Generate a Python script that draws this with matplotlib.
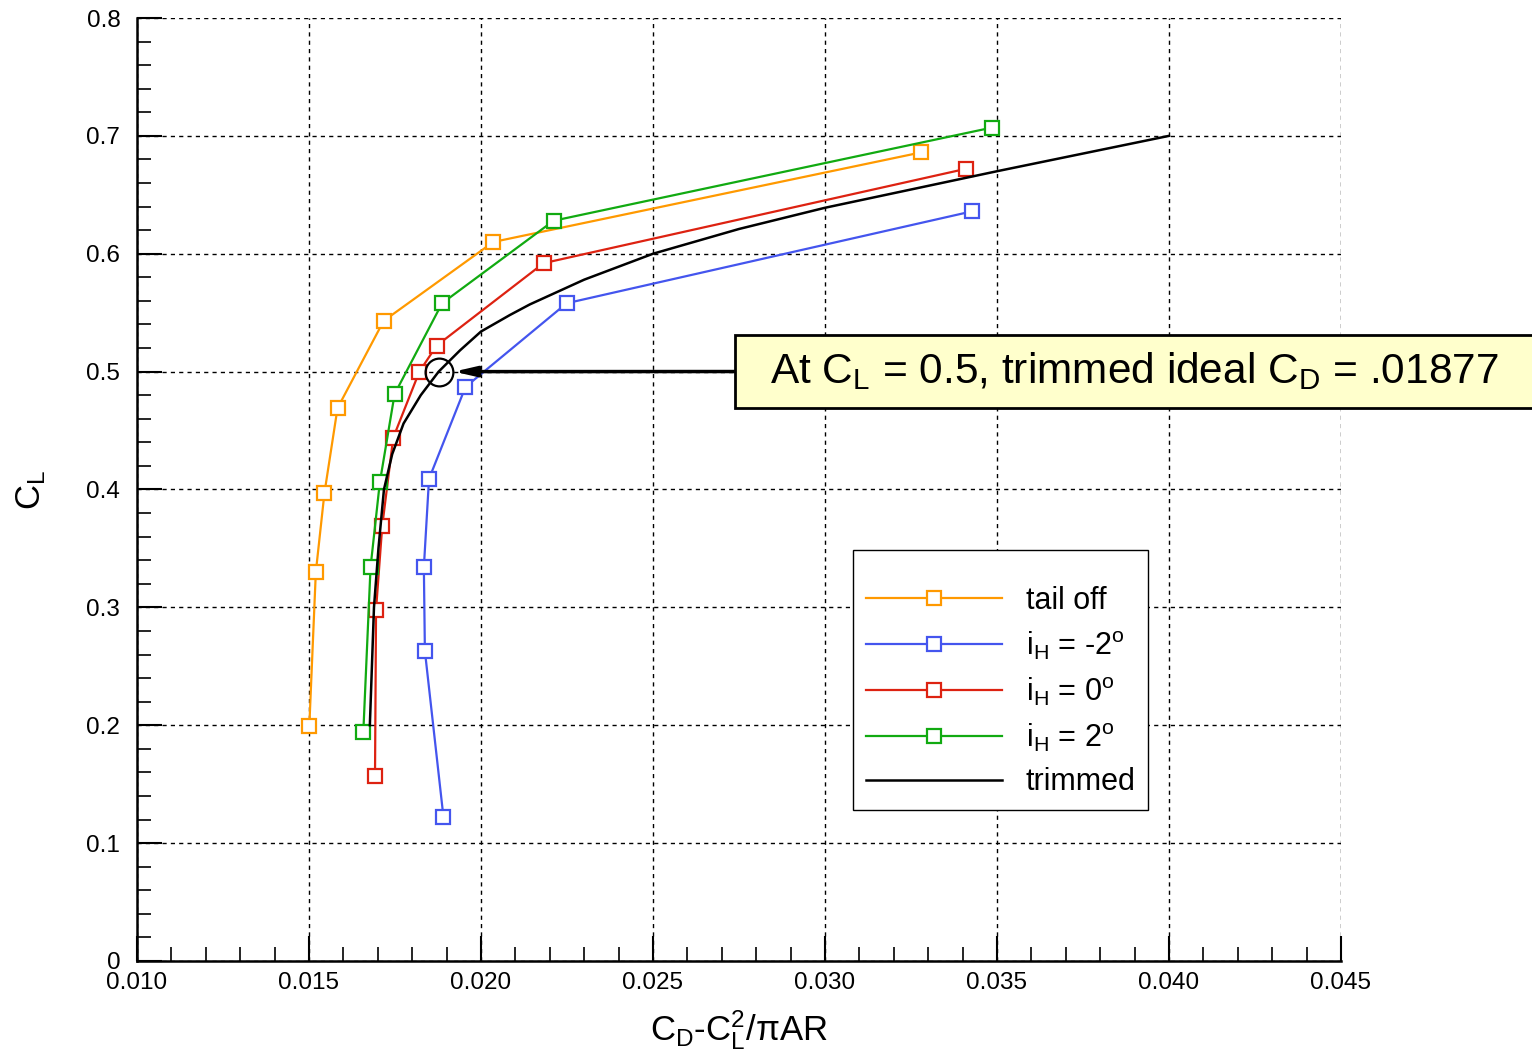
import matplotlib
matplotlib.use("Agg")
import matplotlib.pyplot as plt
from matplotlib.patches import Rectangle
from matplotlib.ticker import MultipleLocator, FormatStrFormatter

plt.rcParams['font.family'] = ['Liberation Sans', 'DejaVu Sans']
plt.rcParams['mathtext.fontset'] = 'custom'
plt.rcParams['mathtext.rm'] = 'Liberation Sans'
plt.rcParams['mathtext.it'] = 'Liberation Sans'

# drag polar data: CD - CL^2/(pi AR) vs CL
cd_tail = [0.01501, 0.01520, 0.01545, 0.01583, 0.01717, 0.02036, 0.03280]
cl_tail = [0.199, 0.330, 0.397, 0.469, 0.543, 0.610, 0.686]

cd_m2 = [0.01891, 0.01837, 0.01834, 0.01849, 0.01955, 0.02249, 0.03428]
cl_m2 = [0.122, 0.263, 0.334, 0.409, 0.487, 0.558, 0.636]

cd_0 = [0.01692, 0.01695, 0.01713, 0.01745, 0.01821, 0.01871, 0.02182, 0.03409]
cl_0 = [0.157, 0.298, 0.369, 0.444, 0.500, 0.522, 0.592, 0.672]

cd_p2 = [0.01658, 0.01679, 0.01706, 0.01749, 0.01887, 0.02211, 0.03485]
cl_p2 = [0.194, 0.334, 0.406, 0.481, 0.558, 0.628, 0.707]

cd_trim = [0.01677, 0.01689, 0.01702, 0.01718, 0.01742, 0.01775, 0.01825, 0.01877,
           0.01939, 0.02000, 0.02084, 0.02142, 0.02300, 0.02500, 0.02750, 0.03000,
           0.03500, 0.04000]
cl_trim = [0.200, 0.300, 0.350, 0.400, 0.430, 0.456, 0.480, 0.500,
           0.518, 0.534, 0.548, 0.557, 0.578, 0.600, 0.621, 0.639,
           0.670, 0.700]

# trimmed point called out in the note
cl_pick = 0.5
cd_pick = 0.01877

series = [
    (cd_tail, cl_tail, '#ff9900', 'tail off'),
    (cd_m2, cl_m2, '#4455ee', r'i$_\mathrm{H}$ = -2$^\mathrm{o}$'),
    (cd_0, cl_0, '#dd2211', r'i$_\mathrm{H}$ = 0$^\mathrm{o}$'),
    (cd_p2, cl_p2, '#11aa11', r'i$_\mathrm{H}$ = 2$^\mathrm{o}$'),
]

fig = plt.figure(figsize=(15.32, 10.53), dpi=100)
ax = fig.add_axes([0.0894, 0.0874, 0.8753 - 0.0894, 0.9829 - 0.0874])

for x, y, c, lab in series:
    ax.plot(x, y, color=c, lw=1.6, marker='s', ms=9.5, mfc='white',
            mec=c, mew=1.6, label=lab, zorder=3)
ax.plot(cd_trim, cl_trim, color='black', lw=1.8, label='trimmed', zorder=4)

ax.set_xlim(0.010, 0.045)
ax.set_ylim(0, 0.8)
ax.xaxis.set_major_locator(MultipleLocator(0.005))
ax.xaxis.set_minor_locator(MultipleLocator(0.001))
ax.yaxis.set_major_locator(MultipleLocator(0.1))
ax.yaxis.set_minor_locator(MultipleLocator(0.02))
ax.xaxis.set_major_formatter(FormatStrFormatter('%.3f'))
ax.yaxis.set_major_formatter(lambda v, p: '0' if abs(v) < 1e-9 else f'{v:.1f}')

ax.spines['top'].set_visible(False)
ax.spines['right'].set_visible(False)
for s in ('left', 'bottom'):
    ax.spines[s].set_linewidth(1.8)
ax.tick_params(which='major', direction='in', length=18, width=1.5,
               labelsize=17.5, top=False, right=False)
ax.tick_params(axis='y', which='major', pad=12)
ax.tick_params(axis='x', which='major', pad=8)
ax.tick_params(which='minor', direction='in', length=10, width=1.2,
               top=False, right=False)
ax.grid(True, which='major', color='black', lw=1.0, ls=(0, (3, 3)))

ax.set_xlabel(r'$\mathrm{C_D}$-$\mathrm{C_L^2}$/πAR', fontsize=25)
ax.set_ylabel(r'$\mathrm{C_L}$', fontsize=25)
ax.xaxis.set_label_coords(0.5, -0.050)
ax.yaxis.set_label_coords(-0.074, 0.5)

leg = ax.legend(loc='upper left', bbox_to_anchor=(0.5947, 0.4358), fontsize=22,
                title=' ', title_fontsize=8,
                frameon=True, fancybox=False, framealpha=1, edgecolor='black',
                handlelength=4.45, handletextpad=0.78, labelspacing=0.43,
                borderpad=0.42, borderaxespad=0)
leg.get_frame().set_linewidth(1.0)

# circled trimmed point and the note box with its arrow
ax.plot([cd_pick], [cl_pick], marker='o', ms=20, mfc='none', mec='black',
        mew=1.6, zorder=5)
box = Rectangle((0.4967, 0.5864), 0.70, 0.0774, transform=ax.transAxes,
                facecolor='#ffffcc', edgecolor='black', lw=2.0,
                clip_on=False, zorder=6)
ax.add_patch(box)
ax.text(0.5258, 0.6251, r'At $\mathrm{C_L}$ = 0.5, trimmed ideal $\mathrm{C_D}$ = .01877',
        transform=ax.transAxes, fontsize=30.5, ha='left', va='center', zorder=7)
ax.annotate('', xy=(cd_pick, cl_pick), xytext=(0.4967, 0.6251),
            xycoords='data', textcoords='axes fraction',
            arrowprops=dict(arrowstyle='-|>,head_length=1.3,head_width=0.3',
                            lw=2.5, color='black', shrinkA=0, shrinkB=11),
            zorder=5)

fig.savefig('out.png', dpi=100)
